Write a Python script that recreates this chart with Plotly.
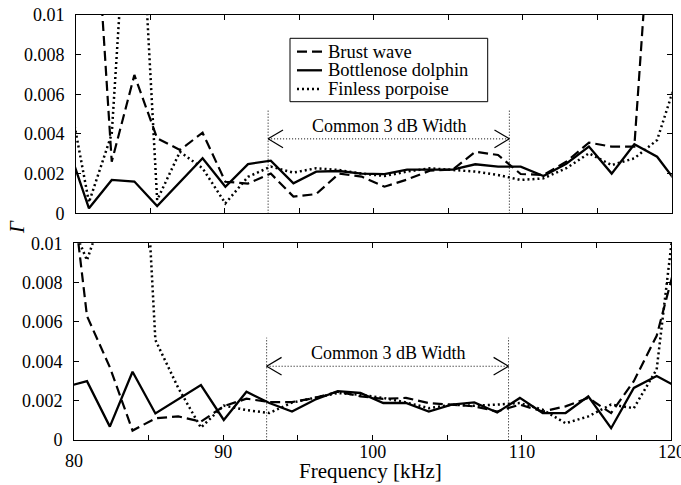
import plotly.graph_objects as go

# ---------------- data ----------------
freq_khz = [79.35, 80.87, 82.40, 83.92, 85.45, 86.98, 88.50, 90.03, 91.55, 93.08,
            94.60, 96.13, 97.66, 99.18, 100.71, 102.23, 103.76, 105.29, 106.81, 108.34,
            109.86, 111.39, 112.92, 114.44, 115.97, 117.49, 119.02, 120.54]

# upper panel
top_burst = [0.0300, 0.0206, 0.00260, 0.00697, 0.00378, 0.00319, 0.00406, 0.00159, 0.00150, 0.00200,
             0.00084, 0.00097, 0.00200, 0.00185, 0.00134, 0.00170, 0.00215, 0.00220, 0.00310, 0.00294,
             0.00198, 0.00193, 0.00260, 0.00356, 0.00336, 0.00336, 0.0200, 0.0300]
top_dolphin = [0.00362, 0.00025, 0.00168, 0.00160, 0.00037, 0.00155, 0.00277, 0.00134, 0.00248, 0.00265,
               0.00151, 0.00210, 0.00213, 0.00200, 0.00197, 0.00220, 0.00220, 0.00220, 0.00247, 0.00235,
               0.00235, 0.00188, 0.00250, 0.00336, 0.00200, 0.00348, 0.00285, 0.00134]
top_porpoise = [0.00663, 0.00055, 0.00400, 0.0220, 0.00067, 0.00310, 0.00227, 0.00050, 0.00184, 0.00235,
                0.00205, 0.00227, 0.00218, 0.00200, 0.00188, 0.00210, 0.00227, 0.00218, 0.00210, 0.00193,
                0.00168, 0.00176, 0.00227, 0.00302, 0.00243, 0.00277, 0.00369, 0.00723]

# lower panel
bot_burst = [0.0161, 0.00630, 0.00370, 0.00048, 0.00110, 0.00120, 0.00093, 0.00172, 0.00210, 0.00193,
             0.00193, 0.00214, 0.00245, 0.00222, 0.00209, 0.00214, 0.00188, 0.00180, 0.00171, 0.00145,
             0.00180, 0.00145, 0.00171, 0.00214, 0.00137, 0.00299, 0.00530, 0.00970]
bot_dolphin = [0.00269, 0.00299, 0.00068, 0.00347, 0.00135, 0.00208, 0.00279, 0.00102, 0.00245, 0.00188,
               0.00145, 0.00205, 0.00248, 0.00239, 0.00188, 0.00188, 0.00145, 0.00180, 0.00191, 0.00140,
               0.00214, 0.00137, 0.00137, 0.00222, 0.00060, 0.00265, 0.00325, 0.00263]
bot_porpoise = [0.0119, 0.00914, 0.0126, 0.0267, 0.00508, 0.00265, 0.00063, 0.00175, 0.00152, 0.00137,
                0.00190, 0.00214, 0.00239, 0.00230, 0.00214, 0.00191, 0.00162, 0.00180, 0.00174, 0.00180,
                0.00188, 0.00154, 0.00085, 0.00120, 0.00180, 0.00162, 0.00359, 0.0134]

series_names = ["Brust wave", "Bottlenose dolphin", "Finless porpoise"]

x_tickvals = [80, 85, 90, 95, 100, 105, 110, 115, 120]
x_ticktext = ["", "", "90", "", "100", "", "110", "", ""]
first_x_label = "80"     # drawn slightly lower, as in the original
last_x_label = "120"     # runs past the right edge, as in the original
y_tickvals = [0, 0.002, 0.004, 0.006, 0.008, 0.01]
y_ticktext = ["0", "0.002", "0.004", "0.006", "0.008", "0.01"]

band_lo, band_hi = 92.9, 109.1       # common 3 dB width
arrow_y = 0.00375
band_label = "Common 3 dB Width"

# ---------------- style ----------------
W, H = 681, 485
FONT = "Liberation Serif, Times New Roman, serif"
styles = {
    "Brust wave": dict(color="black", width=2.2, dash="10px,5px"),
    "Bottlenose dolphin": dict(color="black", width=2.3, dash="solid"),
    "Finless porpoise": dict(color="black", width=2.5, dash="2px,3px"),
}

def px2paper_x(px):
    return px / W

def px2paper_y(py):
    return 1 - py / H

fig = go.Figure()

panels = [
    ("x", "y", [top_burst, top_dolphin, top_porpoise]),
    ("x2", "y2", [bot_burst, bot_dolphin, bot_porpoise]),
]
for xa, ya, data in panels:
    for name, vals in zip(series_names, data):
        fig.add_trace(go.Scatter(x=freq_khz, y=vals, mode="lines", name=name,
                                 line=styles[name], showlegend=False,
                                 xaxis=xa, yaxis=ya))

axis_common = dict(showline=True, linecolor="black", linewidth=1, mirror="ticks",
                   ticks="inside", ticklen=5, tickwidth=1, tickcolor="black",
                   showgrid=False, zeroline=False, automargin=False,
                   tickfont=dict(family=FONT, size=18, color="black"))

fig.update_layout(
    width=W, height=H, margin=dict(l=0, r=0, t=0, b=0, autoexpand=False),
    paper_bgcolor="white", plot_bgcolor="white",
    font=dict(family=FONT, color="black"),
    xaxis=dict(domain=[px2paper_x(76), px2paper_x(671.7)], range=[80, 120], anchor="y",
               tickvals=x_tickvals, ticktext=x_ticktext, showticklabels=False, **axis_common),
    yaxis=dict(domain=[px2paper_y(213.3), px2paper_y(14.8)], range=[0, 0.01], anchor="x",
               tickvals=y_tickvals, ticktext=y_ticktext, ticklabelstandoff=7, **axis_common),
    xaxis2=dict(domain=[px2paper_x(74), px2paper_x(671.3)], range=[80, 120], anchor="y2",
                tickvals=x_tickvals, ticktext=x_ticktext, ticklabelstandoff=-5, **axis_common),
    yaxis2=dict(domain=[px2paper_y(440), px2paper_y(243.3)], range=[0, 0.01], anchor="x2",
                tickvals=y_tickvals, ticktext=y_ticktext, ticklabelstandoff=7, **axis_common),
)

shapes = []
annotations = []
thin_dot = dict(color="black", width=1, dash="1px,2px")
arm_dx, arm_dy = 1.0, 0.00045
for xr, yr in (("x", "y"), ("x2", "y2")):
    for xv in (band_lo, band_hi):
        shapes.append(dict(type="line", xref=xr, yref=yr, x0=xv, x1=xv, y0=-0.00017, y1=0.0052,
                           line=thin_dot))
    shapes.append(dict(type="line", xref=xr, yref=yr, x0=band_lo, x1=band_hi, y0=arrow_y, y1=arrow_y,
                       line=thin_dot))
    for tip, sgn in ((band_lo, 1), (band_hi, -1)):
        for s in (1, -1):
            shapes.append(dict(type="line", xref=xr, yref=yr, x0=tip, y0=arrow_y,
                               x1=tip + sgn * arm_dx, y1=arrow_y + s * arm_dy,
                               line=dict(color="black", width=1.2)))
    annotations.append(dict(xref=xr, yref=yr, x=(band_lo + band_hi) / 2, y=0.0044,
                            text=band_label, showarrow=False, xanchor="center", yanchor="middle",
                            font=dict(family=FONT, size=18, color="black")))

# edge tick labels placed like the original
annotations.append(dict(xref="x2", yref="paper", x=80, y=px2paper_y(461), text=first_x_label,
                        showarrow=False, xanchor="center", yanchor="middle",
                        font=dict(family=FONT, size=18, color="black")))
annotations.append(dict(xref="x2", yref="paper", x=120, y=px2paper_y(451.5), text=last_x_label,
                        showarrow=False, xanchor="center", yanchor="middle",
                        font=dict(family=FONT, size=18, color="black")))

# manual legend (compact spacing like the original)
lg_left, lg_right, lg_top, lg_bottom = 290, 487.7, 38.3, 101.7
shapes.append(dict(type="rect", xref="paper", yref="paper",
                   x0=px2paper_x(lg_left), x1=px2paper_x(lg_right),
                   y0=px2paper_y(lg_bottom), y1=px2paper_y(lg_top),
                   line=dict(color="black", width=1), fillcolor="white", layer="above"))
rows = [51.7, 70.3, 89.0]
for name, ry in zip(series_names, rows):
    st = styles[name]
    shapes.append(dict(type="line", xref="paper", yref="paper",
                       x0=px2paper_x(297), x1=px2paper_x(322),
                       y0=px2paper_y(ry), y1=px2paper_y(ry),
                       line=dict(color="black", width=st["width"], dash=st["dash"]), layer="above"))
    annotations.append(dict(xref="paper", yref="paper", x=px2paper_x(326), y=px2paper_y(ry),
                            text=name, showarrow=False, xanchor="left", yanchor="middle",
                            font=dict(family=FONT, size=18.5, color="black")))

# axis titles
annotations.append(dict(xref="paper", yref="paper", x=px2paper_x(370.7), y=px2paper_y(471),
                        text="Frequency [kHz]", showarrow=False, xanchor="center", yanchor="middle",
                        font=dict(family=FONT, size=21, color="black")))
annotations.append(dict(xref="paper", yref="paper", x=px2paper_x(17), y=px2paper_y(227),
                        text="<i>Γ</i>", showarrow=False, xanchor="center", yanchor="middle",
                        textangle=-90, font=dict(family=FONT, size=21, color="black")))

fig.update_layout(shapes=shapes, annotations=annotations)
fig.write_html("out.html")
